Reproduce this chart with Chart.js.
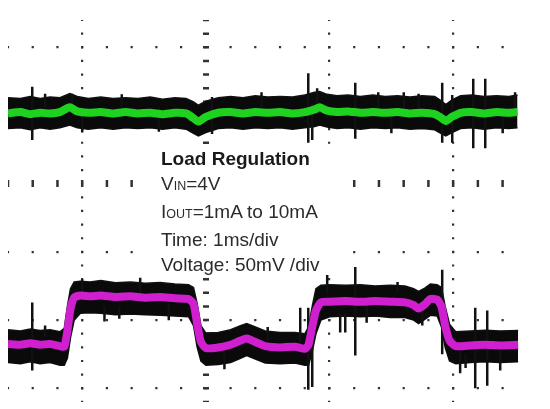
<!DOCTYPE html>
<html>
<head>
<meta charset="utf-8">
<script src="https://cdn.jsdelivr.net/npm/chart.js@4.4.1/dist/chart.umd.min.js"></script>
<style>
  body { margin: 0; background: #fff; }
  #wrap { position: relative; width: 550px; height: 409px; }
  #note {
    position: absolute; left: 145px; top: 144px; width: 184px; height: 128px;
    padding: 2px 0 0 16px; background: #fff;
    font-family: 'Liberation Sans', Arial, sans-serif;
    font-size: 19px; line-height: 25px; color: #2b2b2b; white-space: nowrap;
  }
  #note b { color: #1a1a1a; }
  #note small { font-size: 12.5px; }
</style>
</head>
<body>
<div id="wrap">
  <canvas id="scope"></canvas>
  <div id="note">
    <b>Load Regulation</b><br>
    V<small>IN</small>=4V<br>
    I<small>OUT</small>=1mA to 10mA<br>
    Time: 1ms/div<br>
    Voltage: 50mV /div
  </div>
</div>
<script>
// grid divisions (ms and mV)
const xTicks = [1, 2, 3, 4];
const yTicks = [100, 50, 0, -50, -100, -150];

// green trace (top): time in ms, voltage in mV
const gX   = [0.40, 0.50, 0.58, 0.66, 0.74, 0.82, 0.90, 0.96, 1.05, 1.15, 1.25, 1.35, 1.45, 1.55, 1.65, 1.75, 1.84, 1.90, 1.94, 2.00, 2.10, 2.20, 2.30, 2.40, 2.50, 2.60, 2.70, 2.80, 2.88, 2.92, 2.98, 3.06, 3.15, 3.25, 3.35, 3.45, 3.55, 3.65, 3.75, 3.85, 3.90, 3.94, 3.99, 4.06, 4.15, 4.25, 4.35, 4.45, 4.52];
const gMid = [51.5, 52.5, 51.0, 52.0, 51.5, 52.5, 56.0, 53.0, 52.0, 52.5, 51.5, 52.5, 51.5, 52.0, 51.0, 52.0, 51.5, 48.0, 45.5, 49.0, 52.0, 52.5, 51.5, 52.5, 52.0, 52.5, 51.5, 52.5, 54.5, 56.0, 53.5, 52.5, 53.0, 52.0, 52.5, 52.0, 52.5, 51.5, 52.0, 51.0, 48.5, 46.0, 49.0, 52.0, 52.5, 51.5, 52.5, 52.0, 52.5];
const gTop = [63, 62.5, 64, 62.5, 63.5, 63, 66, 64, 62.5, 63.5, 62.5, 63, 62.5, 63.5, 62, 63, 62.5, 60, 57.5, 60.5, 63, 64, 63, 64.5, 63.5, 64, 63.5, 65, 67, 67.5, 65.5, 64.5, 65, 64, 65, 64, 64.5, 63.5, 64.5, 64, 61, 58, 61.5, 64.5, 65, 64, 64.5, 64, 65];
const gBot = [40.5, 41, 39.5, 41, 40, 41, 43, 41, 40, 41, 40, 41, 40.5, 41, 40, 41, 40, 37, 35, 37.5, 40.5, 41, 40, 41, 40.5, 41, 40, 41, 42, 43, 41.5, 40.5, 41, 40, 41, 40.5, 41, 40, 40.5, 39.5, 37, 35, 37.5, 40.5, 41, 40, 41, 40.5, 41];
// [time, top, bottom]
const gSpikes = [[0.596, 71, 32], [0.70, 66, 55], [0.919, 66, 52], [1.00, 56, 37.5], [1.32, 65.5, 55], [1.62, 56, 38], [2.05, 63.5, 36.5], [2.45, 67, 55], [2.828, 81, 30], [2.860, 59, 32], [2.90, 70, 50], [3.208, 74, 33], [3.394, 67, 50], [3.50, 56, 37], [3.60, 67, 55], [3.72, 66, 50], [3.911, 74, 30], [3.992, 65, 30], [4.162, 77, 26], [4.259, 77, 26], [4.40, 56, 37], [4.50, 67, 50]];

// magenta trace (bottom)
const mX   = [0.40, 0.50, 0.58, 0.66, 0.74, 0.82, 0.855, 0.88, 0.905, 0.935, 0.985, 1.065, 1.15, 1.27, 1.39, 1.51, 1.63, 1.75, 1.86, 1.90, 1.93, 1.96, 2.00, 2.10, 2.20, 2.28, 2.33, 2.40, 2.48, 2.60, 2.72, 2.80, 2.83, 2.86, 2.89, 2.93, 3.00, 3.13, 3.25, 3.37, 3.49, 3.61, 3.68, 3.72, 3.77, 3.815, 3.87, 3.905, 3.935, 3.97, 4.02, 4.14, 4.26, 4.38, 4.525];
const mMid = [-117.5, -118, -117, -118, -117.5, -119, -119.5, -108, -92, -83.5, -82, -82.5, -82, -83, -82.5, -83.5, -83, -84, -84.5, -88, -103, -116, -120.5, -120, -118, -115, -113.5, -116, -119, -120, -119.5, -121, -118, -105, -93, -87, -86.5, -86, -86.5, -86, -86.5, -87, -89, -91.5, -88.5, -84.5, -85, -90, -104, -115, -119, -118.5, -118, -118.5, -118];
const mTop = [-107, -108, -106.5, -107.5, -107, -108.5, -106, -90, -77, -72, -71.5, -72, -71, -72.5, -72, -73, -72.5, -73.5, -74, -76, -88, -104, -109.5, -109, -107, -104, -102.5, -105, -108, -109, -109, -110, -105, -90, -77, -74.5, -74, -74.5, -74, -75, -74.5, -75, -77, -79, -76.5, -73.5, -74, -76, -90, -103, -108.5, -108, -107.5, -108, -107.5];
const mBot = [-131, -132, -130.5, -132, -131, -133, -133, -128, -113, -100, -95, -94.5, -95, -96, -95.5, -96, -96.5, -97, -97.5, -104, -120, -130, -133, -132.5, -131, -128, -126, -128.5, -131.5, -132, -131.5, -133, -133, -123, -110, -100, -97.5, -97, -97.5, -97, -98, -98, -100, -102.5, -99.5, -96.5, -97, -105, -120, -130, -132, -131, -130.5, -131, -130.5];
const mSpikes = [[0.596, -87, -137], [0.70, -104, -112], [1.00, -70, -80], [1.18, -90, -101], [1.30, -90, -99], [1.469, -69, -80], [1.70, -88, -100], [2.15, -115, -136], [2.50, -105, -115], [2.763, -91, -118], [2.828, -91, -151], [2.860, -100, -149], [2.981, -67, -80], [3.086, -95, -109], [3.127, -95, -109], [3.208, -61, -126], [3.30, -85, -102], [3.55, -72, -80], [3.75, -95, -104], [3.911, -63, -125], [4.056, -118, -139], [4.10, -125, -135], [4.178, -91, -150], [4.275, -93, -148], [4.38, -118, -137]];

const pts = (xs, ys) => xs.map((x, i) => ({ x: x, y: ys[i] }));
const spikePts = list => list.flatMap(s => [{ x: s[0], y: s[1] }, { x: s[0], y: s[2] }, { x: s[0], y: null }]);

const trace = (data, color, width, order) => ({
  data: data, borderColor: color, borderWidth: width, order: order,
  pointRadius: 0, fill: false, tension: 0
});

const ctx = document.getElementById('scope').getContext('2d');

new Chart(ctx, {
  type: 'line',
  data: {
    datasets: [
      Object.assign(trace(pts(gX, gMid), '#1fd21f', 8, 0), { tension: 0.2 }),
      Object.assign(trace(pts(mX, mMid), '#cf1fcf', 8, 0), { tension: 0.2 }),
      trace(spikePts(gSpikes), '#111', 2.5, 1),
      trace(spikePts(mSpikes), '#111', 2.5, 1),
      Object.assign(trace(pts(gX, gTop), '#111', 1.5, 2), { fill: '+1', backgroundColor: '#0a0a0a' }),
      trace(pts(gX, gBot), '#111', 1.5, 2),
      Object.assign(trace(pts(mX, mTop), '#111', 1.5, 2), { fill: '+1', backgroundColor: '#0a0a0a' }),
      trace(pts(mX, mBot), '#111', 1.5, 2)
    ]
  },
  options: {
    responsive: true,
    maintainAspectRatio: false,
    animation: false,
    layout: { padding: { left: 8, right: 30, top: 20, bottom: 7 } },
    plugins: {
      legend: { display: false },
      tooltip: { enabled: false },
      filler: { propagate: false }
    },
    scales: {
      x: {
        type: 'linear',
        min: 0.4,
        max: 4.54,
        afterBuildTicks: axis => { axis.ticks = xTicks.map(v => ({ value: v })); },
        ticks: { display: false },
        border: {
          display: false,
          dash: c => (c.tick && c.tick.value === 2) ? [2.5, 11.14] : [2.2, 11.44], // dots every 1/5 div
          dashOffset: c => (c.tick && c.tick.value === 2) ? 1.25 : 1.1
        },
        grid: {
          drawTicks: false,
          color: '#333',
          lineWidth: c => (c.tick && c.tick.value === 2) ? 6 : 2.2
        }
      },
      y: {
        min: -160,
        max: 120,
        afterBuildTicks: axis => { axis.ticks = yTicks.map(v => ({ value: v })); },
        ticks: { display: false },
        border: {
          display: false,
          dash: c => (c.tick && c.tick.value === 0) ? [2.5, 22.23] : [2.2, 22.53],
          dashOffset: c => (c.tick && c.tick.value === 0) ? 1.25 : 1.1
        },
        grid: {
          drawTicks: false,
          color: '#333',
          lineWidth: c => (c.tick && c.tick.value === 0) ? 7 : 2.2
        }
      }
    }
  }
});
</script>
</body>
</html>
